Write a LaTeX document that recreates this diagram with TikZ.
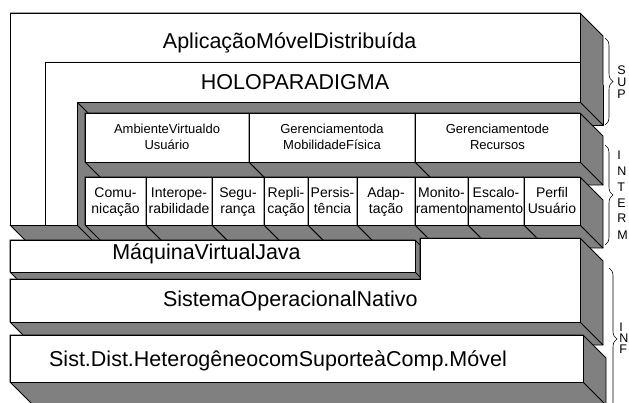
\documentclass[tikz,border=0pt]{standalone}
\usepackage{fontspec}
\setmainfont{Liberation Sans}
\usetikzlibrary{decorations.pathreplacing}
\definecolor{side}{RGB}{128,128,128}
\newcommand\mybox[4]{%
  \fill[side,draw=black] (#1,#2) -- (#3,#2) -- (#3+23,#2+23) -- (#3+23,#4+23) -- (#1+23,#4+23) -- (#1,#4) -- cycle;
  \draw (#3,#4) -- (#3+23,#4+23);
  \draw[face] (#1,#2) rectangle (#3,#4);}
\begin{document}
\begin{tikzpicture}[x=1pt,y=-1pt, line width=0.8pt, line join=miter,
  face/.style={fill=white,draw=black},
  bigtxt/.style={font=\fontsize{21.5}{24}\selectfont, anchor=base, inner sep=0pt},
  midtxt/.style={font=\fontsize{13}{15}\selectfont, anchor=base, inner sep=0pt},
  smalltxt/.style={font=\fontsize{14}{16}\selectfont, anchor=base, inner sep=0pt},
  lett/.style={font=\fontsize{12.5}{14}\selectfont, anchor=base west, inner sep=0pt},
  brc/.style={decorate,decoration={brace,amplitude=8pt},line width=0.6pt}]
\useasboundingbox (0,0) rectangle (629,403);
% Aplicacao layer
\fill[side] (10,13) -- (580,13) -- (603,36) -- (603,85) -- (68,85) -- (68,248) -- (33,248) -- (10,225) -- cycle;
\draw (10,13) -- (580,13) -- (603,36) -- (603,85) -- (68,85) -- (68,248) -- (33,248) -- (10,225);
\draw[face] (10,13) -- (580,13) -- (580,62) -- (45,62) -- (45,225) -- (10,225) -- cycle;
% HOLOPARADIGMA layer
\fill[side] (45,62) -- (580,62) -- (603,85) -- (603,125) -- (100,125) -- (100,248) -- (68,248) -- (45,225) -- cycle;
\draw (603,85) -- (603,125) -- (100,125) -- (100,248) -- (68,248);
\draw (580,102) -- (603,125);
\draw (77,102) -- (100,125);
\draw (77,225) -- (100,248);
\draw[face] (45,62) -- (580,62) -- (580,102) -- (77,102) -- (77,225) -- (45,225) -- cycle;
% big modules
\mybox{85}{113}{249}{162}
\mybox{249}{113}{415}{162}
\mybox{415}{113}{580}{162}
% small modules
\mybox{85}{177}{146}{225}
\mybox{146}{177}{212}{225}
\mybox{212}{177}{264}{225}
\mybox{264}{177}{308}{225}
\mybox{308}{177}{357}{225}
\mybox{357}{177}{415}{225}
\mybox{415}{177}{468}{225}
\mybox{468}{177}{524}{225}
\mybox{524}{177}{580}{225}
% JVM
\mybox{10}{240}{415}{272}
% SO
\fill[side,draw=black] (420,238) -- (580,238) -- (603,261) -- (603,345) -- (33,345) -- (10,322) -- (10,279) -- (420,279) -- cycle;
\draw (580,322) -- (603,345);
\draw[face] (420,238) -- (580,238) -- (580,322) -- (10,322) -- (10,279) -- (420,279) -- cycle;
% Sist. Dist.
\mybox{10}{335}{583}{382}
% texts
\node[bigtxt] (tapl) at (289.6,48.5) {AplicaçãoMóvelDistribuída};
\node[bigtxt] (tholo) at (295,89.5) {HOLOPARADIGMA};
\node[bigtxt] (tjvm) at (206.5,260) {MáquinaVirtualJava};
\node[bigtxt] (tso) at (290.3,306.5) {SistemaOperacionalNativo};
\node[bigtxt] (tsd) at (278,366) {Sist.Dist.HeterogêneocomSuporteàComp.Móvel};
\node[midtxt] (m1a) at (167,134) {AmbienteVirtualdo};
\node[midtxt] (m1b) at (167,150) {Usuário};
\node[midtxt] (m2a) at (332,134) {Gerenciamentoda};
\node[midtxt] (m2b) at (332,150) {MobilidadeFísica};
\node[midtxt] (m3a) at (497.5,134) {Gerenciamentode};
\node[midtxt] (m3b) at (497.5,150) {Recursos};
\node[smalltxt] (s1a) at (115.5,198) {Comu-};
\node[smalltxt] (s1b) at (115.5,214) {nicação};
\node[smalltxt] (s2a) at (179,198) {Interope-};
\node[smalltxt] (s2b) at (179,214) {rabilidade};
\node[smalltxt] (s3a) at (238,198) {Segu-};
\node[smalltxt] (s3b) at (238,214) {rança};
\node[smalltxt] (s4a) at (286,198) {Repli-};
\node[smalltxt] (s4b) at (286,214) {cação};
\node[smalltxt] (s5a) at (332.5,198) {Persis-};
\node[smalltxt] (s5b) at (332.5,214) {tência};
\node[smalltxt] (s6a) at (386,198) {Adap-};
\node[smalltxt] (s6b) at (386,214) {tação};
\node[smalltxt] (s7a) at (441.5,198) {Monito-};
\node[smalltxt] (s7b) at (441.5,214) {ramento};
\node[smalltxt] (s8a) at (496,198) {Escalo-};
\node[smalltxt] (s8b) at (496,214) {namento};
\node[smalltxt] (s9a) at (552,198) {Perfil};
\node[smalltxt] (s9b) at (552,214) {Usuário};
% braces
\draw[brc] (605,38) -- (605,125);
\draw[brc] (605,145) -- (605,245);
\draw[brc] (609,268) -- (609,410);
\node[lett] (b1a) at (617,75) {S};
\node[lett] (b1b) at (617,87) {U};
\node[lett] (b1c) at (617,99) {P};
\node[lett] (b2a) at (617,160) {I};
\node[lett] (b2b) at (617,175.5) {N};
\node[lett] (b2c) at (617,191.5) {T};
\node[lett] (b2d) at (617,207.5) {E};
\node[lett] (b2e) at (617,223) {R};
\node[lett] (b2f) at (617,240) {M};
\node[lett] (b3a) at (619,331) {I};
\node[lett] (b3b) at (619,342) {N};
\node[lett] (b3c) at (619,353) {F};
\end{tikzpicture}
\end{document}
